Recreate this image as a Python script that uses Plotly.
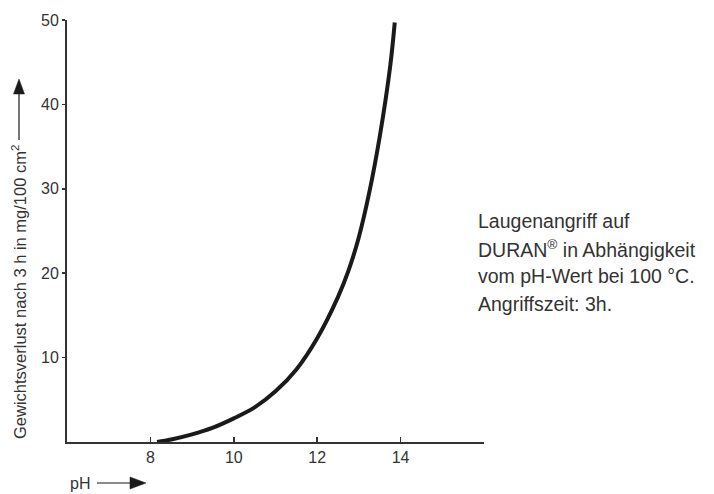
import plotly.graph_objects as go

# Data
ph = [8.16, 8.5, 9.0, 9.5, 10.0, 10.5, 11.0, 11.5, 12.0, 12.5, 12.75, 13.0, 13.25, 13.5, 13.75, 13.86]
loss = [0.0, 0.3, 0.9, 1.7, 2.8, 4.1, 6.0, 8.6, 12.3, 17.2, 20.3, 24.3, 29.6, 36.2, 44.5, 49.7]

x_tickvals = [8, 10, 12, 14, 16]
x_ticktext = ["8", "10", "12", "14", ""]
y_tickvals = [10, 20, 30, 40, 50]
y_ticktext = ["10", "20", "30", "40", "50"]

x_title = "pH"
y_title = "Gewichtsverlust nach 3 h in mg/100 cm<sup>2</sup>"
note_lines = ["Laugenangriff auf", "DURAN<sup>®</sup> in Abhängigkeit",
              "vom pH-Wert bei 100 °C.", "Angriffszeit: 3h."]

W, H = 714, 494
L, R, T, B = 67, 230, 20, 52
PW, PH = W - L - R, H - T - B


def px(xp):
    return (xp - L) / PW


def py(yp):
    return (H - B - yp) / PH


TXT = "#333333"
DARK = "#1a1a1a"
FONT = "Liberation Sans, Arial, sans-serif"

fig = go.Figure()
fig.add_trace(go.Scatter(
    x=ph, y=loss, mode="lines",
    line=dict(color=DARK, width=4, shape="spline", smoothing=1.0),
    hoverinfo="skip", showlegend=False,
))

fig.update_layout(
    width=W, height=H,
    margin=dict(l=L, r=R, t=T, b=B),
    paper_bgcolor="white", plot_bgcolor="white",
    font=dict(family=FONT, size=16, color=TXT),
    xaxis=dict(
        range=[6, 16], tickvals=x_tickvals, ticktext=x_ticktext,
        ticks="inside", ticklen=5, tickwidth=1.5, tickcolor="#333",
        showline=True, linecolor="#333", linewidth=2,
        showgrid=False, zeroline=False, fixedrange=True,
        tickfont=dict(size=16, color=TXT),
    ),
    yaxis=dict(
        range=[0, 50], tickvals=y_tickvals, ticktext=y_ticktext,
        ticks="outside", ticklen=3, tickwidth=1.5, tickcolor="#333",
        showline=True, linecolor="#333", linewidth=2,
        showgrid=False, zeroline=False, fixedrange=True,
        tickfont=dict(size=16, color=TXT),
    ),
)

# Y axis title (rotated)
fig.add_annotation(
    xref="paper", yref="paper", x=px(19), y=py(292),
    text=y_title, textangle=-90, showarrow=False,
    xanchor="center", yanchor="middle",
    font=dict(size=16.5, color=TXT, family=FONT),
)
# Y arrow: shaft + head
fig.add_shape(type="line", xref="paper", yref="paper",
              x0=px(19), x1=px(19), y0=py(140), y1=py(90),
              line=dict(color=DARK, width=1.2))
fig.add_shape(type="path", xref="paper", yref="paper",
              path=f"M {px(13.5)} {py(94)} L {px(24.5)} {py(94)} L {px(19)} {py(79)} Z",
              fillcolor=DARK, line=dict(color=DARK, width=0.5))

# X axis title
fig.add_annotation(
    xref="paper", yref="paper", x=px(68), y=py(483),
    text=x_title, showarrow=False, xanchor="left", yanchor="middle",
    font=dict(size=16, color=TXT, family=FONT),
)
# X arrow: shaft + head
fig.add_shape(type="line", xref="paper", yref="paper",
              x0=px(97), x1=px(134), y0=py(483), y1=py(483),
              line=dict(color=DARK, width=1.2))
fig.add_shape(type="path", xref="paper", yref="paper",
              path=f"M {px(130)} {py(477)} L {px(130)} {py(489)} L {px(146)} {py(483)} Z",
              fillcolor=DARK, line=dict(color=DARK, width=0.5))

# Description text, one annotation per line
for i, line in enumerate(note_lines):
    fig.add_annotation(
        xref="paper", yref="paper", x=px(476), y=py(221 + 27.5 * i),
        text=line, showarrow=False, xanchor="left", yanchor="middle",
        align="left",
        font=dict(size=19.5, color=TXT, family=FONT),
    )

fig.write_html(
    "out.html",
    config={"displayModeBar": False, "staticPlot": True},
    post_script="document.body.style.margin='0px';document.body.style.overflow='hidden';",
)
